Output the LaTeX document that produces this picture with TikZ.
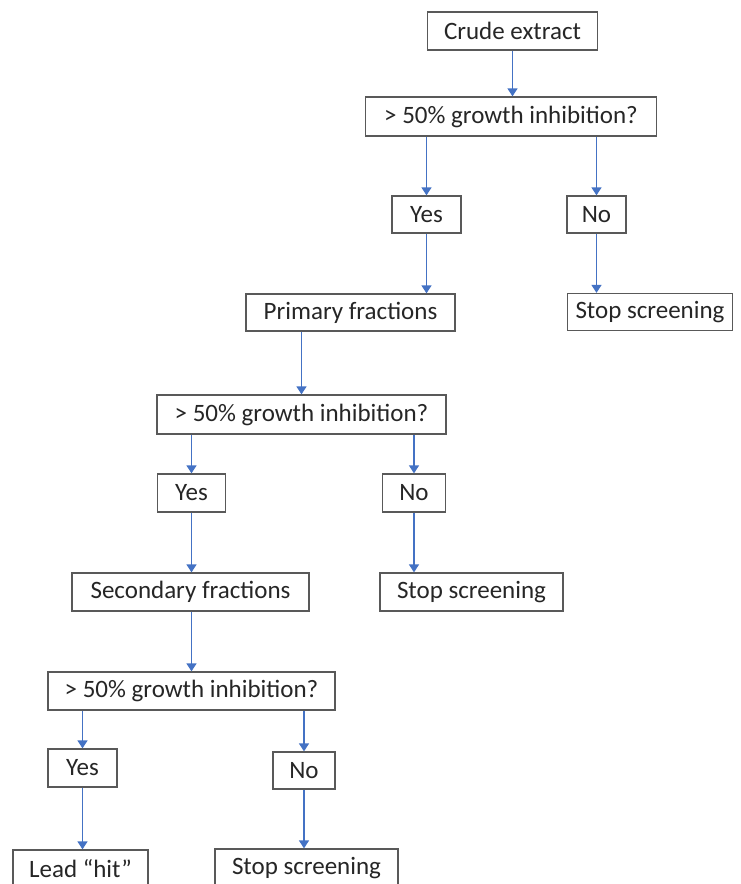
\documentclass[tikz,border=0pt]{standalone}
\usepackage{fontspec}
\setmainfont{Carlito}
\usetikzlibrary{arrows.meta}
\definecolor{arrowblue}{HTML}{4472C4}
\definecolor{boxgray}{HTML}{595959}
\definecolor{txt}{HTML}{262626}
\begin{document}
\begin{tikzpicture}[x=1pt,y=-1pt,
  box/.style={draw=boxgray,line width=1.3pt,rectangle,inner sep=0pt,anchor=center,
    text=txt,font=\fontsize{25}{30}\selectfont},
  arr/.style={draw=arrowblue,line width=1.3pt,-{Triangle[width=10pt,length=8pt]}}]
\useasboundingbox (0,0) rectangle (741,884);
\clip (0,0) rectangle (741,884);
\fill[white] (0,0) rectangle (741,884);
% level 1
\node[box,minimum width=170pt,minimum height=38pt] (crude) at (512.5,31) {Crude extract};
\node[box,minimum width=291pt,minimum height=39pt] (q1) at (511,116.5) {> 50\% growth inhibition?};
\node[box,minimum width=69pt,minimum height=37pt] (yes1) at (426.5,214.5) {Yes};
\node[box,minimum width=59pt,minimum height=37pt] (no1) at (596.5,214.5) {No};
\node[box,minimum width=209pt,minimum height=37pt] (prim) at (350.5,312.5) {Primary fractions};
\node[box,minimum width=165pt,minimum height=37pt] (stop1) at (650,312) {Stop screening};
% level 2
\node[box,minimum width=289pt,minimum height=39pt] (q2) at (301.5,414.5) {> 50\% growth inhibition?};
\node[box,minimum width=68pt,minimum height=38pt] (yes2) at (191.5,493) {Yes};
\node[box,minimum width=63pt,minimum height=38pt] (no2) at (414,493) {No};
\node[box,minimum width=237pt,minimum height=38pt] (sec) at (190.5,592) {Secondary fractions};
\node[box,minimum width=183pt,minimum height=38pt] (stop2) at (471.5,592) {Stop screening};
% level 3
\node[box,minimum width=287pt,minimum height=38pt] (q3) at (191.5,691) {> 50\% growth inhibition?};
\node[box,minimum width=69pt,minimum height=38pt] (yes3) at (82.5,768) {Yes};
\node[box,minimum width=62pt,minimum height=37pt] (no3) at (304,770.5) {No};
\node[box,minimum width=135pt,minimum height=38pt] (lead) at (80.5,869) {Lead “hit”};
\node[box,minimum width=183pt,minimum height=38pt] (stop3) at (306.5,868) {Stop screening};
% connectors
\draw[arr] (crude.south) -- (crude.south |- q1.north);
\draw[arr] (q1.south -| yes1.north) -- (yes1.north);
\draw[arr] (q1.south -| no1.north) -- (no1.north);
\draw[arr] (yes1.south) -- (yes1.south |- prim.north);
\draw[arr] (no1.south) -- (no1.south |- stop1.north);
\draw[arr] (prim.south -| q2.north) -- (q2.north);
\draw[arr] (q2.south -| yes2.north) -- (yes2.north);
\draw[arr] (q2.south -| no2.north) -- (no2.north);
\draw[arr] (yes2.south) -- (yes2.south |- sec.north);
\draw[arr] (no2.south) -- (no2.south |- stop2.north);
\draw[arr] (sec.south -| q3.north) -- (q3.north);
\draw[arr] (q3.south -| yes3.north) -- (yes3.north);
\draw[arr] (q3.south -| no3.north) -- (no3.north);
\draw[arr] (yes3.south) -- (yes3.south |- lead.north);
\draw[arr] (no3.south) -- (no3.south |- stop3.north);
\end{tikzpicture}
\end{document}
